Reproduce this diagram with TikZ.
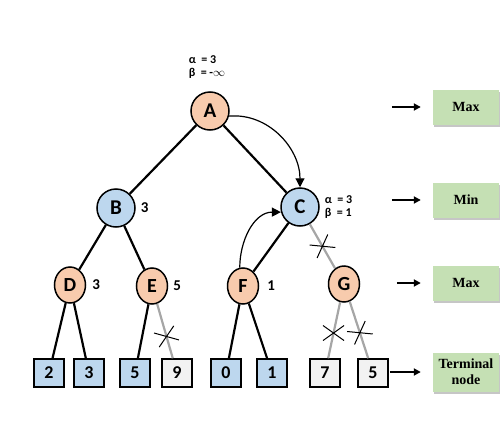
\documentclass[tikz,border=0pt]{standalone}
\usepackage{fontspec}
\setsansfont{Carlito}
\setmainfont{Liberation Serif}
\usepackage{xcolor}
\usetikzlibrary{positioning, arrows.meta, shapes.geometric, shapes.misc, shadows}
\definecolor{maxfill}{HTML}{F8CBAD}
\definecolor{minfill}{HTML}{BDD7EE}
\definecolor{cutfill}{HTML}{F2F2F2}
\definecolor{levfill}{HTML}{C5E0B4}
\definecolor{cutline}{HTML}{A6A6A6}

\begin{document}
\begin{tikzpicture}
        [
        x=1pt, y=1pt,
        maxnode/.style = {circle, draw, line width=1.5pt, fill=maxfill, minimum size=38pt, inner sep=0pt, font=\sffamily\bfseries\fontsize{21}{21}\selectfont},
        minnode/.style = {maxnode, fill=minfill},
        lownode/.style = {ellipse, draw, line width=1.5pt, fill=maxfill, minimum width=31pt, minimum height=36pt, inner sep=0pt, font=\sffamily\bfseries\fontsize{20}{20}\selectfont},
        leafnode/.style = {rectangle, draw, line width=1.5pt, fill=minfill, minimum width=30pt, minimum height=28pt, inner sep=0pt, font=\sffamily\bfseries\fontsize{18}{18}\selectfont},
        cutleaf/.style = {leafnode, fill=cutfill},
        val/.style = {inner sep=0pt, font=\sffamily\bfseries\fontsize{15}{15}\selectfont},
        ab/.style = {inner sep=0pt, align=left, font=\sffamily\bfseries\fontsize{12}{13}\selectfont},
        lev/.style = {rectangle, fill=levfill, minimum width=66pt, minimum height=35pt, align=center, font=\rmfamily\bfseries\fontsize{14}{16}\selectfont, drop shadow={shadow xshift=1pt, shadow yshift=-2pt, opacity=0.45}},
        tree/.style = {line width=2.2pt},
        cut/.style = {line width=2.2pt, draw=cutline},
        xmark/.style = {cross out, draw=black, line width=1pt, minimum width=20pt, minimum height=14pt, inner sep=0pt},
        curv/.style = {line width=1.2pt, -{Triangle[length=9pt, width=9pt]}},
        levarrow/.style = {line width=2pt, shorten >=12pt, -{Triangle[length=7pt, width=7pt]}}
        ]
    \useasboundingbox (0,0) rectangle (500,-447);

    % tree
    \node[maxnode] (a) at (210,-111) {A};
    \node[minnode] (b) at (116,-208) {B};
    \node[minnode] (c) at (300,-207) {C};
    \node[lownode] (d) at (70,-285) {D};
    \node[lownode] (e) at (152,-286) {E};
    \node[lownode] (f) at (243,-286) {F};
    \node[lownode] (g) at (344,-284) {G};

    \node[leafnode] (l2) at (49,-373) {2};
    \node[leafnode] (l3) at (89,-373) {3};
    \node[leafnode] (l5) at (135,-373) {5};
    \node[cutleaf] (l9) at (177,-373) {9};
    \node[leafnode] (l0) at (226,-373) {0};
    \node[leafnode] (l1) at (272,-373) {1};
    \node[cutleaf] (l7) at (325,-373) {7};
    \node[cutleaf] (l5b) at (373,-373) {5};

    % values
    \node[ab] (aab) at (207,-67) {α\ \ =\ 3\\β\ \ =\ -$\infty$};
    \node[ab, right=5pt of c] (cab) {α\ \ =\ 3\\β\ \ =\ 1};
    \node[val, right=5pt of b] (bv) {3};
    \node[val, right=6pt of d] (dv) {3};
    \node[val, right=5pt of e] (ev) {5};
    \node[val, right=8pt of f] (fv) {1};

    \draw[tree] (a) -- (b);
    \draw[tree] (a) -- (c);
    \draw[tree] (b) -- (d);
    \draw[tree] (b) -- (e);
    \draw[tree] (c) -- (f);
    \draw[cut] (c) -- node[xmark, rotate=30, pos=0.5] (x1) {} (g);
    \draw[tree] (d) -- (l2);
    \draw[tree] (d) -- (l3);
    \draw[tree] (e) -- (l5);
    \draw[cut] (e) -- node[xmark, rotate=20, pos=0.6] (x2) {} (l9);
    \draw[tree] (f) -- (l0);
    \draw[tree] (f) -- (l1);
    \draw[cut] (g) -- node[xmark, pos=0.55] (x3) {} (l7);
    \draw[cut] (g) -- node[xmark, rotate=30, pos=0.55] (x4) {} (l5b);

    \draw[curv] (a.-15) to[out=5, in=90] (c.north);
    \draw[curv] (f.100) to[out=90, in=180] (c.195);

    % levels
    \node[lev] (lev1) at (466,-107) {Max};
    \node[lev] (lev2) at (466,-200) {Min};
    \node[lev] (lev3) at (466,-283) {Max};
    \node[lev, minimum height=39pt] (lev4) at (466,-372) {Terminal\\node};

    \coordinate[left=41pt of lev1.west] (t1);
    \coordinate[left=41pt of lev2.west] (t2);
    \coordinate[left=36pt of lev3.west] (t3);
    \coordinate[left=43pt of lev4.west] (t4);
    \draw[levarrow] (t1) -- (lev1.west);
    \draw[levarrow] (t2) -- (lev2.west);
    \draw[levarrow] (t3) -- (lev3.west);
    \draw[levarrow] (t4) -- (lev4.west);
\end{tikzpicture}
\end{document}
